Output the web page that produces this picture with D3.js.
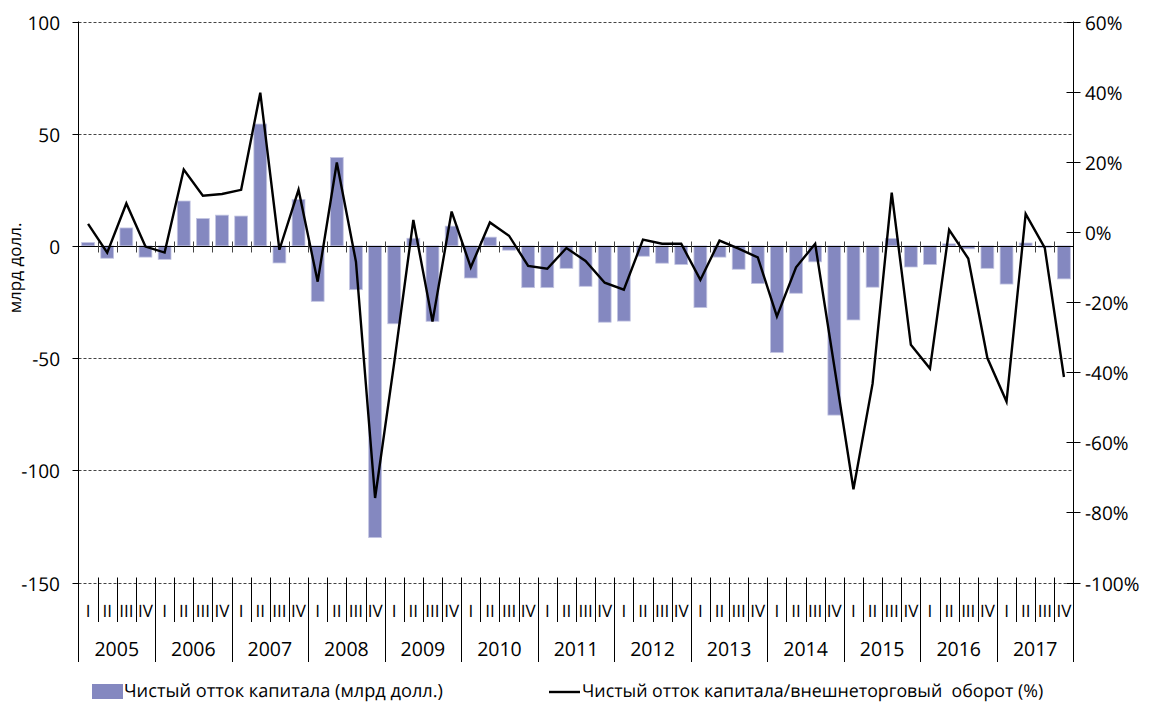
<html lang="ru">
  <head>
    <meta charset="utf-8">
    <title>Чистый отток капитала</title>
    <script src="https://d3js.org/d3.v7.min.js"></script>
    <style>
      body { margin: 0; background: #fff; }
      svg text { font-family: 'Open Sans', sans-serif; fill: #000; }
    </style>
  </head>
  <body>
    <div id="container"></div>
    <script>
      const years = [2005, 2006, 2007, 2008, 2009, 2010, 2011, 2012, 2013, 2014, 2015, 2016, 2017]
      const quarters = ['I', 'II', 'III', 'IV']
      // net capital outflow, bn USD
      const outflow = [
        1.5, -5.5, 8, -5,
        -6, 20, 12.2, 13.7,
        13.3, 54.3, -7.6, 20.7,
        -24.7, 39.4, -19.5, -130,
        -34.7, 3.4, -33.6, 8.8,
        -14.3, 3.9, -1.9, -18.6,
        -18.6, -10, -18, -34,
        -33.5, -4.6, -7.7, -8.3,
        -27.5, -5, -10.4, -16.8,
        -47.5, -21.1, -7.1, -75.4,
        -33, -18.4, 3.3, -9.4,
        -8.3, 0.9, -1.3, -10,
        -17, 1.3, -0.7, -14.7
      ]
      // net capital outflow / foreign trade turnover, %
      const ratio = [
        2.3, -5.9, 8.1, -4.2,
        -5.9, 17.8, 10.3, 10.8,
        12.0, 39.7, -5.1, 12.0,
        -14.2, 19.8, -8.5, -75.9,
        -37.3, 3.4, -25.6, 5.8,
        -10.1, 2.7, -1.1, -9.7,
        -10.5, -4.6, -8.3, -14.5,
        -16.5, -2.2, -3.4, -3.4,
        -13.7, -2.5, -4.8, -7.3,
        -24.1, -10.1, -3.4, -38.4,
        -73.4, -43.3, 11.2, -32.2,
        -39.0, 0.6, -7.6, -36.0,
        -48.4, 5.1, -4.6, -41.4
      ]
      const leftTicks = [100, 50, 0, -50, -100, -150]
      const rightTicks = [60, 40, 20, 0, -20, -40, -60, -80, -100]

      const W = 1149, H = 704
      const x0 = 78.5, x1 = 1073.5, yTop = 21.5, yBot = 582.5

      let data = []
      years.forEach((yr, i) => quarters.forEach((q, j) => {
        let k = i * 4 + j
        data.push({ key: yr + '-' + q, year: yr, q, v: outflow[k], r: ratio[k] })
      }))

      let svg = d3.select('#container').append('svg')
        .attr('width', W)
        .attr('height', H)
        .attr('text-rendering', 'geometricPrecision')

      let x = d3.scaleBand().domain(data.map(d => d.key)).range([x0, x1]).paddingInner(0.33).paddingOuter(0.165)
      let xStep = x.step()
      let yL = d3.scaleLinear().domain([-150, 100]).range([yBot, yTop])
      let yR = d3.scaleLinear().domain([-100, 60]).range([yBot, yTop])

      // dashed grid lines
      svg.append('g').selectAll('line')
        .data(leftTicks.filter(t => t !== 0)).enter()
        .append('line')
        .attr('x1', x0).attr('x2', x1)
        .attr('y1', d => Math.round(yL(d)) + 0.5).attr('y2', d => Math.round(yL(d)) + 0.5)
        .attr('stroke', '#444')
        .attr('stroke-width', 1)
        .attr('stroke-dasharray', '3,2')

      // bars
      svg.append('g').selectAll('rect')
        .data(data).enter()
        .append('rect')
        .attr('x', d => x(d.key))
        .attr('width', x.bandwidth())
        .attr('y', d => yL(Math.max(0, d.v)))
        .attr('height', d => Math.abs(yL(d.v) - yL(0)))
        .attr('fill', '#8488c0')
        .attr('stroke', '#c3c5e2')
        .attr('stroke-width', 0.8)

      // zero line with quarter ticks
      let yZero = Math.round(yL(0)) + 0.5
      svg.append('line')
        .attr('x1', x0).attr('x2', x1)
        .attr('y1', yZero).attr('y2', yZero)
        .attr('stroke', '#000')
      let bounds = d3.range(1, data.length).map(i => x0 + i * xStep)
      svg.append('g').selectAll('line')
        .data(bounds).enter()
        .append('line')
        .attr('x1', d => Math.round(d) + 0.5).attr('x2', d => Math.round(d) + 0.5)
        .attr('y1', yZero - 5).attr('y2', yZero + 6)
        .attr('stroke', '#444')

      // ratio line
      let line = d3.line()
        .x(d => x(d.key) + x.bandwidth() / 2)
        .y(d => yR(d.r))
      svg.append('path')
        .datum(data)
        .attr('d', line)
        .attr('fill', 'none')
        .attr('stroke', '#000')
        .attr('stroke-width', 2.4)
        .attr('stroke-linejoin', 'miter')

      // left axis
      svg.append('line')
        .attr('x1', x0).attr('x2', x0)
        .attr('y1', yTop).attr('y2', 662)
        .attr('stroke', '#000')
      svg.append('g').selectAll('line')
        .data(leftTicks).enter()
        .append('line')
        .attr('x1', x0 - 6).attr('x2', x0)
        .attr('y1', d => Math.round(yL(d)) + 0.5).attr('y2', d => Math.round(yL(d)) + 0.5)
        .attr('stroke', '#000')
      svg.append('g').selectAll('text')
        .data(leftTicks).enter()
        .append('text')
        .attr('x', 60)
        .attr('y', d => yL(d) + 8)
        .attr('text-anchor', 'end')
        .attr('font-size', 19)
        .text(d => d)

      // right axis
      svg.append('line')
        .attr('x1', x1).attr('x2', x1)
        .attr('y1', yTop).attr('y2', 662)
        .attr('stroke', '#000')
      svg.append('g').selectAll('line')
        .data(rightTicks).enter()
        .append('line')
        .attr('x1', x1 - 7).attr('x2', x1 + 7)
        .attr('y1', d => Math.round(yR(d)) + 0.5).attr('y2', d => Math.round(yR(d)) + 0.5)
        .attr('stroke', '#000')
      svg.append('g').selectAll('text')
        .data(rightTicks).enter()
        .append('text')
        .attr('x', 1085)
        .attr('y', d => yR(d) + 8)
        .attr('font-size', 19)
        .text(d => d + '%')

      // axis title
      svg.append('text')
        .attr('transform', 'translate(21,268) rotate(-90)')
        .attr('text-anchor', 'middle')
        .attr('font-size', 17)
        .text('млрд долл.')

      // bottom category labels
      let yb = Math.round(yBot) + 0.5
      svg.append('g').selectAll('line')
        .data(bounds).enter()
        .append('line')
        .attr('x1', d => Math.round(d) + 0.5).attr('x2', d => Math.round(d) + 0.5)
        .attr('y1', yb - 6)
        .attr('y2', (d, i) => (i + 1) % 4 === 0 ? 662 : 622)
        .attr('stroke', '#000')
      svg.append('g').selectAll('text')
        .data(data).enter()
        .append('text')
        .attr('x', d => x(d.key) + x.bandwidth() / 2)
        .attr('y', 617)
        .attr('text-anchor', 'middle')
        .attr('font-size', 17)
        .text(d => d.q)
      svg.append('g').selectAll('text')
        .data(years).enter()
        .append('text')
        .attr('x', (d, i) => x0 + (i * 4 + 2) * xStep)
        .attr('y', 656)
        .attr('text-anchor', 'middle')
        .attr('font-size', 19.5)
        .text(d => d)

      // legend
      svg.append('rect')
        .attr('x', 92).attr('y', 684)
        .attr('width', 31).attr('height', 15)
        .attr('fill', '#8488c0')
      svg.append('text')
        .attr('x', 124).attr('y', 697)
        .attr('font-size', 18.2)
        .text('Чистый отток капитала (млрд долл.)')
      svg.append('line')
        .attr('x1', 549).attr('x2', 580)
        .attr('y1', 692).attr('y2', 692)
        .attr('stroke', '#000')
        .attr('stroke-width', 2.4)
      svg.append('text')
        .attr('x', 582).attr('y', 697)
        .attr('font-size', 17.8)
        .attr('xml:space', 'preserve')
        .text('Чистый отток капитала/внешнеторговый  оборот (%)')
    </script>
  </body>
</html>
